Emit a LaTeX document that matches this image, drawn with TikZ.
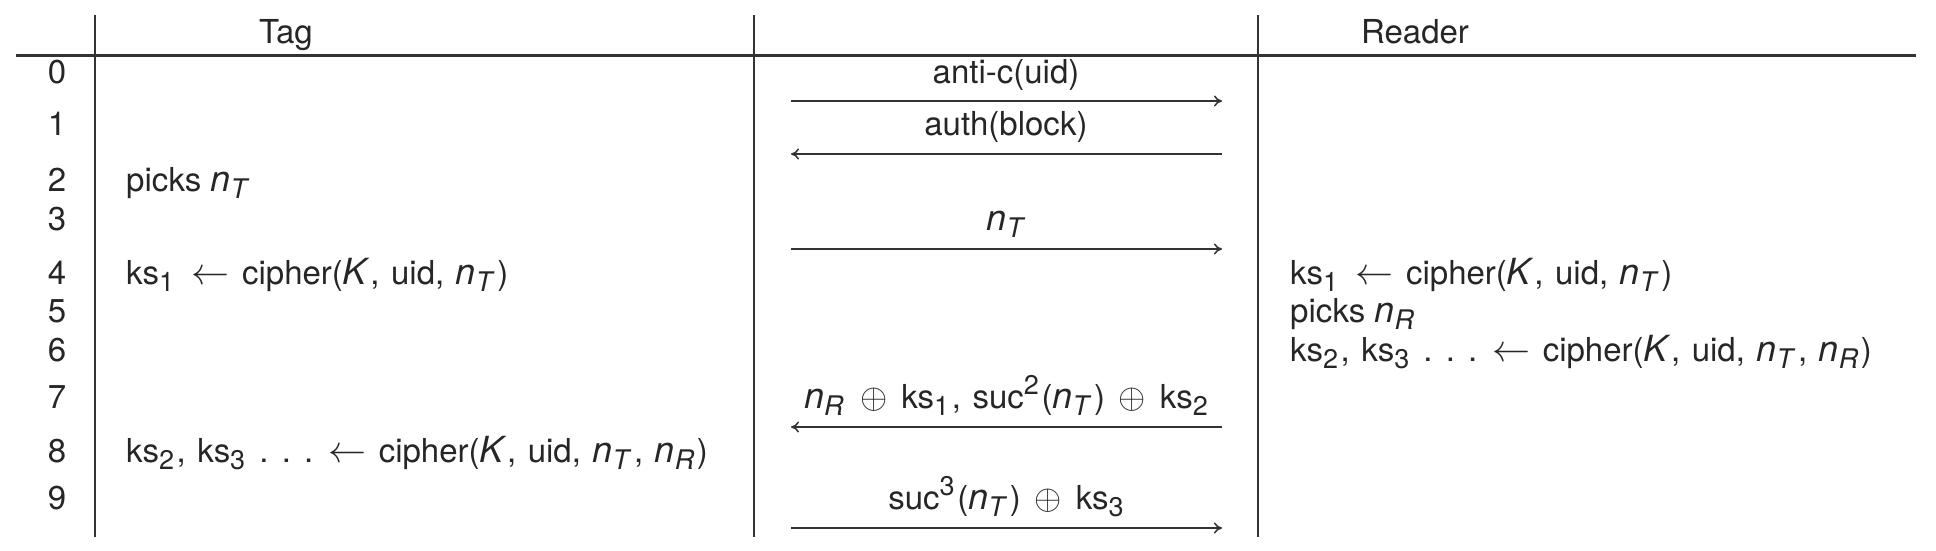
\RequirePackage{fix-cm}
\documentclass[tikz,border=0pt]{standalone}
\usepackage{fontspec}
\setmainfont{TeX Gyre Heros}
\usetikzlibrary{arrows.meta}
\newcommand\sbs[1]{\raisebox{-0.22em}{\fontsize{27}{27}\selectfont #1}\hspace{0.08em}}
\newcommand\sps[1]{\raisebox{0.42em}{\fontsize{27}{27}\selectfont #1}\hspace{0.08em}}
\newcommand\mi[1]{{\fontsize{36}{36}\selectfont\textit{#1}}}
\newcommand\nv[1]{\mi{n}\sbs{\textit{#1}}}
\newcommand\kk{\mi{K}\/}
\newcommand\ks[1]{ks\sbs{#1}}
\newcommand\opl{\hspace{0.42em}{\fontsize{35}{35}\selectfont$\oplus$}\hspace{0.42em}}
\newcommand\lar{\hspace{0.45em}{\fontsize{38}{38}\selectfont$\leftarrow$}\hspace{0.38em}}
\newcommand\cmm{,\hspace{0.35em}}
\newcommand\dts{\hspace{0.35em}.\hspace{0.4em}.\hspace{0.4em}.}
\begin{document}
\begin{tikzpicture}[x=1pt,y=-1pt,
  every node/.style={inner sep=0pt,font=\fontsize{33}{39}\selectfont,text=black!85},
  lbl/.style={anchor=base west},
  num/.style={anchor=base},
  hd/.style={anchor=base},
  mlbl/.style={anchor=base},
  lane/.style={line width=2pt,draw=black!80},
  hdr/.style={line width=3pt,draw=black!80},
  msg/.style={line width=1.5pt,draw=black!80,-{To[length=8pt,width=11pt]}}]
\useasboundingbox (0,0) rectangle (1936,550);
% frame lines
\coordinate (hl) at (16,55);
\coordinate (hr) at (1916,55);
\coordinate (v1t) at (95,15);
\coordinate (v1b) at (95,537);
\coordinate (v2t) at (754,15);
\coordinate (v2b) at (754,537);
\coordinate (v3t) at (1258,15);
\coordinate (v3b) at (1258,537);
\draw[hdr] (hl) -- (hr);
\draw[lane] (v1t) -- (v1b);
\draw[lane] (v2t) -- (v2b);
\draw[lane] (v3t) -- (v3b);
% headers
\node[hd] (htag) at (286,43) {Tag};
\node[hd] (hrd) at (1415,43) {Reader};
% row numbers
\node[num] (r0) at (57,83) {0};
\node[num] (r1) at (57,135) {1};
\node[num] (r2) at (57,191) {2};
\node[num] (r3) at (57,230) {3};
\node[num] (r4) at (57,284) {4};
\node[num] (r5) at (57,322) {5};
\node[num] (r6) at (57,361) {6};
\node[num] (r7) at (57,408) {7};
\node[num] (r8) at (57,462) {8};
\node[num] (r9) at (57,509) {9};
% tag column
\node[lbl] (t2) at (126,191) {picks \nv{T}};
\node[lbl] (t4) at (126,284) {\ks{1}\lar cipher(\kk\cmm uid\cmm \nv{T})};
\node[lbl] (t8) at (126,462) {\ks{2}\cmm\ks{3}\dts\lar cipher(\kk\cmm uid\cmm \nv{T}\cmm\nv{R})};
% reader column
\node[lbl] (d4) at (1290,284) {\ks{1}\lar cipher(\kk\cmm uid\cmm \nv{T})};
\node[lbl] (d5) at (1290,322) {picks \nv{R}};
\node[lbl] (d6) at (1290,361) {\ks{2}\cmm\ks{3}\dts\lar cipher(\kk\cmm uid\cmm \nv{T}\cmm\nv{R})};
% messages
\coordinate (a0l) at (791,101);  \coordinate (a0r) at (1222,101);
\coordinate (a1l) at (791,154);  \coordinate (a1r) at (1222,154);
\coordinate (a3l) at (791,249);  \coordinate (a3r) at (1222,249);
\coordinate (a7l) at (791,427);  \coordinate (a7r) at (1222,427);
\coordinate (a9l) at (791,528);  \coordinate (a9r) at (1222,528);
\node[mlbl] (m0) at (1006,83) {anti-c(uid)};
\node[mlbl] (m1) at (1006,135) {auth(block)};
\node[mlbl] (m3) at (1006,230) {\nv{T}};
\node[mlbl] (m7) at (1006,408) {\nv{R}\opl\ks{1}\cmm suc\sps{2}(\nv{T})\opl\ks{2}};
\node[mlbl] (m9) at (1006,509) {suc\sps{3}(\nv{T})\opl\ks{3}};
\draw[msg] (a0l) -- (a0r);
\draw[msg] (a1r) -- (a1l);
\draw[msg] (a3l) -- (a3r);
\draw[msg] (a7r) -- (a7l);
\draw[msg] (a9l) -- (a9r);
\end{tikzpicture}
\end{document}
